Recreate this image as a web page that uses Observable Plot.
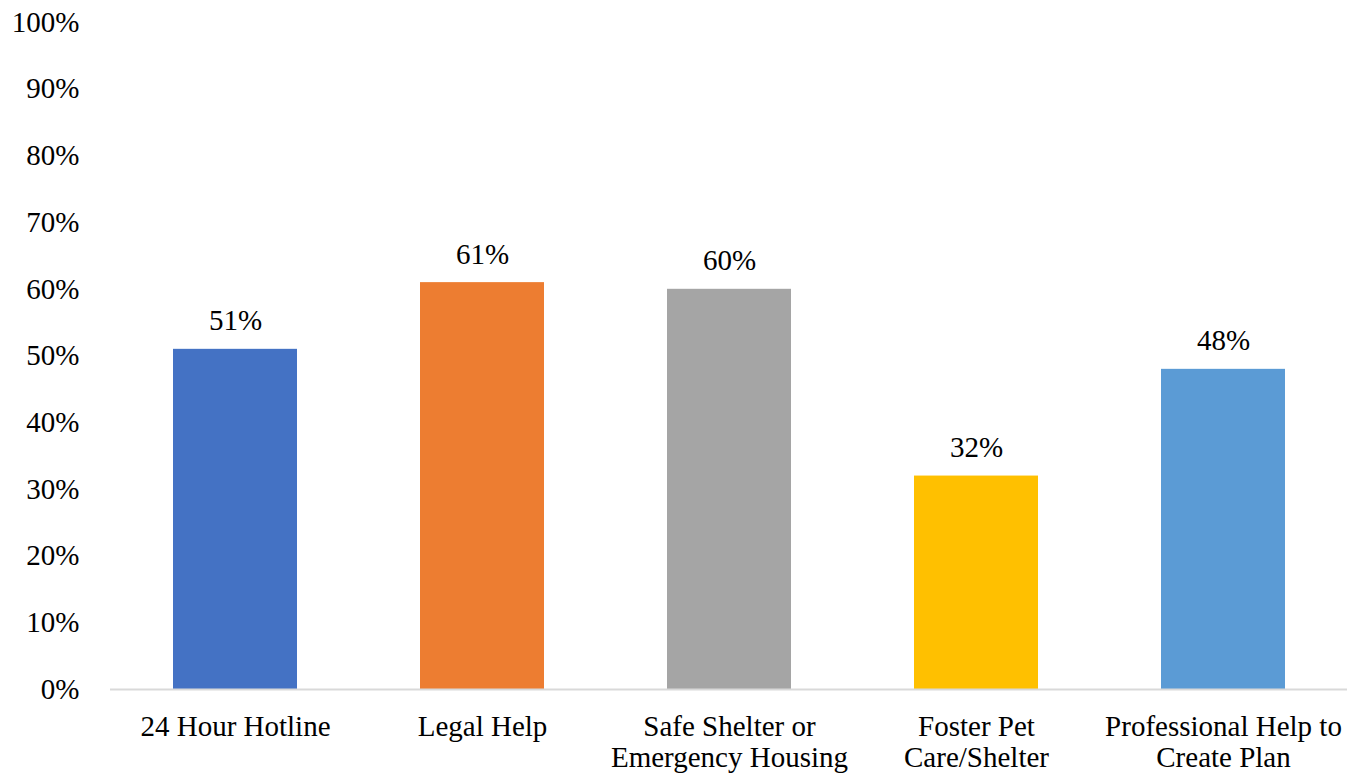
<!DOCTYPE html>
<html>
<head>
<meta charset="utf-8">
<script src="https://cdn.jsdelivr.net/npm/d3@7"></script>
<script src="https://cdn.jsdelivr.net/npm/@observablehq/plot@0.6"></script>
<style>
  html, body { margin: 0; padding: 0; background: #fff; }
  #chart svg { display: block; }
  #chart svg text { font-family: "Liberation Serif", "Times New Roman", serif; }
</style>
</head>
<body>
<div id="chart"></div>
<script>
const categories = ["24 Hour Hotline", "Legal Help", "Safe Shelter or\nEmergency Housing", "Foster Pet\nCare/Shelter", "Professional Help to\nCreate Plan"];
const values = [0.51, 0.61, 0.60, 0.32, 0.48];
const valueLabels = ["51%", "61%", "60%", "32%", "48%"];
const colors = ["#4472C4", "#ED7D31", "#A5A5A5", "#FFC000", "#5B9BD5"];
const yTicks = [0, 0.1, 0.2, 0.3, 0.4, 0.5, 0.6, 0.7, 0.8, 0.9, 1.0];

const data = categories.map((c, i) => ({category: c, value: values[i], label: valueLabels[i], color: colors[i]}));
const serif = "Liberation Serif";

const chart = Plot.plot({
  width: 1361,
  height: 773,
  marginLeft: 110,
  marginRight: 14,
  marginTop: 22,
  marginBottom: 84,
  style: {fontFamily: serif, fontSize: "29px", color: "#000", background: "#fff"},
  x: {domain: categories, paddingInner: 0.5, paddingOuter: 0.25, label: null},
  y: {domain: [0, 1], label: null},
  marks: [
    Plot.barY(data, {x: "category", y: "value", fill: "color"}),
    Plot.ruleY([0], {stroke: "#d9d9d9", strokeWidth: 2}),
    Plot.axisY({ticks: yTicks, tickSize: 0, tickPadding: 31, tickFormat: d => Math.round(d * 100) + "%", fontSize: 29, fontFamily: serif, label: null}),
    Plot.axisX({tickSize: 0, tickPadding: 24, fontSize: 29, fontFamily: serif, lineHeight: 1.07, label: null}),
    Plot.text(data, {x: "category", y: "value", text: "label", lineAnchor: "bottom", dy: -19, fontSize: 29, fontFamily: serif, fill: "#000"})
  ]
});
document.getElementById("chart").appendChild(chart);
</script>
</body>
</html>
